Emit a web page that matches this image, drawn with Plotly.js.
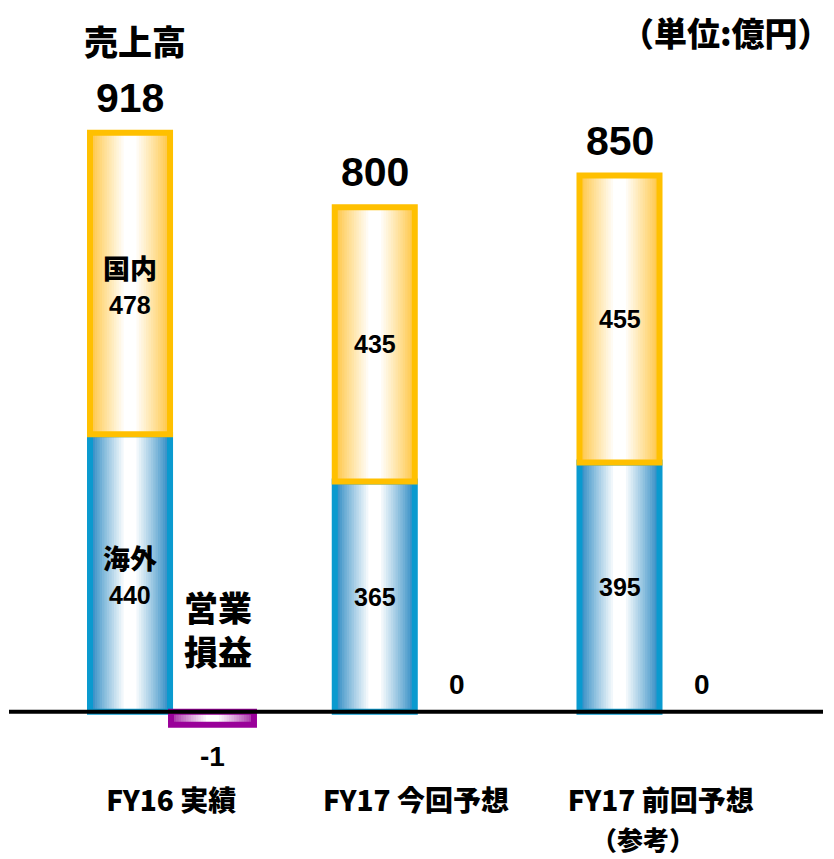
<!DOCTYPE html>
<html><head><meta charset="utf-8">
<script src="https://cdn.plot.ly/plotly-3.0.1.min.js"></script>
<style>html,body{margin:0;padding:0;background:#fff}#chart{width:834px;height:859px}</style>
</head><body><div id="chart"></div>
<script>
// ---- data ----
const categories = ['FY16 実績', 'FY17 今回予想', 'FY17 前回予想'];
const tickLabels = ['FY16 実績', 'FY17 今回予想', 'FY17 前回予想'];
const tickNotes = ['', '', '（参考）'];
const overseas = [440, 365, 395];          // 海外
const domestic = [478, 435, 455];          // 国内
const totalSales = [918, 800, 850];        // 売上高
const operatingIncome = [-1, 0, 0];        // 営業損益
const seriesNames = ['海外', '国内', '営業損益', '売上高'];
const unitLabel = '（単位:億円）';

// ---- layout constants ----
const idx = categories.map((_, i) => i);
const SALES_OFF = -0.1685, OP_OFF = 0.1685;
const SALES_W = 0.327, OP_W = 0.339;
const Y_MIN = -40, Y_MAX = 1000;     // sales axis
const OP_MAX = 48.5;                 // operating-income axis (own scale, zero aligned)
const JP = 'Noto Sans CJK JP, sans-serif';
const NUM = 'Liberation Sans, Arial, sans-serif';

function hex(c){ return [1,3,5].map(i => parseInt(c.slice(i, i+2), 16)); }
function mix(a, b, t){
  const A = hex(a), B = hex(b);
  return 'rgb(' + A.map((v, i) => Math.round(v + (B[i] - v) * t)).join(',') + ')';
}

const traces = [];
const N = 14;
function gradientBars(yvals, base, center, width, edge, border, lw, yaxis){
  const step = width * (1 - 0.16) / 2 / N;
  for (let k = 0; k <= N; k++) {
    const w = width - 2 * k * step;
    const t = Math.pow(k / N, 0.9);
    traces.push({type:'bar', x: idx, y: yvals, base: base, width: w, offset: center - w/2,
      yaxis: yaxis, marker:{color: mix(edge, '#ffffff', t), line:{width:0}},
      hoverinfo:'skip', showlegend:false});
  }
  traces.push({type:'bar', x: idx, y: yvals, base: base, width: width, offset: center - width/2,
    yaxis: yaxis, marker:{color:'rgba(0,0,0,0)', line:{color: border, width: yvals.map(v => v === 0 ? 0 : lw)}},
    hoverinfo:'skip', showlegend:false});
}
const zeros = idx.map(() => 0);
gradientBars(overseas, zeros, SALES_OFF, SALES_W, '#2A88C2', '#0A9ACF', 6, 'y');
gradientBars(domestic, overseas, SALES_OFF, SALES_W, '#FFC540', '#FFC000', 6, 'y');
gradientBars(operatingIncome, zeros, OP_OFF, OP_W, '#A62AA6', '#990099', 6, 'y2');

const bold = 'bold';
const ann = [];
ann.push({x: idx[0] + SALES_OFF, y: totalSales[0], text: seriesNames[3], showarrow:false,
  xshift: 5, yshift: 92, font:{family: JP, size: 34, color:'#000', weight: 900}});
idx.forEach(i => {
  ann.push({x: i + SALES_OFF, y: totalSales[i], text: String(totalSales[i]), showarrow:false,
    yshift: 35, font:{family: NUM, size: 41, color:'#000', weight: bold}});
  const hasName = i === 0;
  ann.push({x: i + SALES_OFF, y: overseas[i] / 2, text: String(overseas[i]), showarrow:false,
    yshift: hasName ? -22 : 0, font:{family: NUM, size: 25, color:'#000', weight: bold}});
  ann.push({x: i + SALES_OFF, y: overseas[i] + domestic[i] / 2, text: String(domestic[i]), showarrow:false,
    yshift: hasName ? -22 : 0, font:{family: NUM, size: 25, color:'#000', weight: bold}});
  if (hasName) {
    ann.push({x: i + SALES_OFF, y: overseas[i] / 2, text: seriesNames[0], showarrow:false,
      yshift: 16, font:{family: JP, size: 27, color:'#000', weight: 900}});
    ann.push({x: i + SALES_OFF, y: overseas[i] + domestic[i] / 2, text: seriesNames[1], showarrow:false,
      yshift: 16, font:{family: JP, size: 27, color:'#000', weight: 900}});
  }
  const v = operatingIncome[i];
  ann.push({x: i + OP_OFF, y: 0, text: String(v), showarrow:false,
    yshift: v < 0 ? -45 : 27, font:{family: NUM, size: 28, color:'#000', weight: bold}});
  if (tickNotes[i]) {
    ann.push({x: i, yref:'paper', y: 0, yanchor:'bottom', yshift: -122, xshift: -18,
      text: tickNotes[i], showarrow:false, font:{family: JP, size: 26, color:'#000', weight: 900}});
  }
});
ann.push({x: idx[0] + OP_OFF, y: 0, xshift: 5, yshift: 83, text: '営業<br>損益', showarrow:false,
  font:{family: JP, size: 34, color:'#000', weight: 900}});
ann.push({xref:'paper', yref:'paper', x: 1, y: 1, xanchor:'right', yanchor:'middle', xshift: 10, yshift: 49,
  text: unitLabel, showarrow:false, font:{family: JP, size: 33, color:'#000', weight: 900}});

const layout = {
  width: 834, height: 859,
  margin: {l: 9, r: 11, t: 81, b: 122, pad: 0},
  paper_bgcolor: '#fff', plot_bgcolor: '#fff',
  barmode: 'overlay', showlegend: false,
  xaxis: {type:'linear', range: [-0.663, 2.663], tickvals: idx, ticktext: tickLabels,
    showline: false, ticks: '', showgrid: false, zeroline: false,
    ticklabelstandoff: 45, tickfont: {family: JP, size: 28, color: '#000', weight: 900}, fixedrange: true},
  yaxis: {range: [Y_MIN, Y_MAX], visible: false, fixedrange: true},
  yaxis2: {range: [OP_MAX * Y_MIN / Y_MAX, OP_MAX], overlaying: 'y', visible: false, fixedrange: true},
  shapes: [{type:'line', xref:'paper', yref:'y', x0: 0, x1: 1, y0: 0, y1: 0, layer:'above',
    line:{color:'#000', width: 4}}],
  annotations: ann
};
Plotly.newPlot('chart', traces, layout, {staticPlot: true, displayModeBar: false});
</script></body></html>
